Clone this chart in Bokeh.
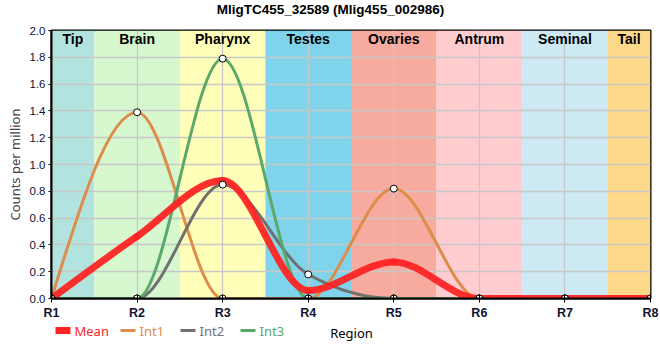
from bokeh.plotting import figure
from bokeh.embed import file_html
from bokeh.resources import INLINE
from bokeh.layouts import column
from bokeh.models import FixedTicker, Range1d, ColumnDataSource
from bokeh.core.properties import value

# ---- data ----
title_text = "MligTC455_32589 (Mlig455_002986)"
regions = ["R1", "R2", "R3", "R4", "R5", "R6", "R7", "R8"]
mean = [0.0, 0.463, 0.88, 0.06, 0.273, 0.0, 0.0, 0.0]
int1 = [0.0, 1.39, 0.0, 0.0, 0.82, 0.0, 0.0, 0.0]
int2 = [0.0, 0.0, 0.85, 0.18, 0.0, 0.0, 0.0, 0.0]
int3 = [0.0, 0.0, 1.79, 0.0, 0.0, 0.0, 0.0, 0.0]
tissues = ["Tip", "Brain", "Pharynx", "Testes", "Ovaries", "Antrum", "Seminal", "Tail"]
tissue_left = [0.0, 0.5, 1.5, 2.5, 3.5, 4.5, 5.5, 6.5]
tissue_right = [0.5, 1.5, 2.5, 3.5, 4.5, 5.5, 6.5, 7.0]
tissue_colors = ["#b3e3de", "#d7f7cf", "#ffffb9", "#7fd4eb", "#f7ab9e", "#ffcdd0", "#cde9f4", "#fed98a"]
y_ticks = [0.0, 0.2, 0.4, 0.6, 0.8, 1.0, 1.2, 1.4, 1.6, 1.8, 2.0]
series_names = ["Mean", "Int1", "Int2", "Int3"]
series_colors = ["#ff2424", "#dd8c4a", "#707070", "#5aa86a"]

xs = list(range(len(regions)))


def monotone_beziers(x, y):
    """Control points of a monotone cubic (d3 curveMonotoneX) through the data."""
    n = len(x)
    def sgn(v):
        return -1.0 if v < 0 else 1.0
    t = [0.0] * n
    for i in range(1, n - 1):
        h0 = x[i] - x[i - 1]
        h1 = x[i + 1] - x[i]
        s0 = (y[i] - y[i - 1]) / h0
        s1 = (y[i + 1] - y[i]) / h1
        pp = (s0 * h1 + s1 * h0) / (h0 + h1)
        t[i] = (sgn(s0) + sgn(s1)) * min(abs(s0), abs(s1), 0.5 * abs(pp))
    h = x[1] - x[0]
    t[0] = (3 * (y[1] - y[0]) / h - t[1]) / 2
    h = x[-1] - x[-2]
    t[-1] = (3 * (y[-1] - y[-2]) / h - t[-2]) / 2
    d = dict(x0=[], y0=[], x1=[], y1=[], cx0=[], cy0=[], cx1=[], cy1=[])
    for i in range(n - 1):
        dx = (x[i + 1] - x[i]) / 3
        d["x0"].append(x[i]); d["y0"].append(y[i])
        d["x1"].append(x[i + 1]); d["y1"].append(y[i + 1])
        d["cx0"].append(x[i] + dx); d["cy0"].append(y[i] + dx * t[i])
        d["cx1"].append(x[i + 1] - dx); d["cy1"].append(y[i + 1] - dx * t[i + 1])
    return ColumnDataSource(d)


def strip(height):
    f = figure(width=660, height=height, output_backend="svg", toolbar_location=None,
               x_range=Range1d(51, 650), y_range=Range1d(0, height),
               x_axis_location=None, y_axis_location=None,
               min_border_left=0, min_border_right=0, min_border_top=0, min_border_bottom=0)
    f.grid.visible = False
    f.outline_line_color = None
    return f


# title strip (frame aligned with the main frame by the column layout)
tt = strip(24)
tt.text([330], [15], text=[title_text], text_align="center", text_baseline="middle",
        text_font=value("Liberation Sans"), text_font_size="13.5px", text_font_style="bold",
        text_color="black")

p = figure(width=660, height=298, output_backend="svg", toolbar_location=None,
           x_range=Range1d(0, 7), y_range=Range1d(0, 2.0),
           min_border_left=51, min_border_right=10, min_border_top=6, min_border_bottom=23)

p.outline_line_color = "black"
p.outline_line_width = 2
p.background_fill_color = "white"

# region bands
p.quad(left=tissue_left, right=tissue_right, bottom=0, top=2.0, fill_color=tissue_colors,
       line_color=None, level="image")
band_cx = [(a + b) / 2 for a, b in zip(tissue_left, tissue_right)]
p.text(x=band_cx, y=[1.935] * len(tissues), text=tissues, text_align="center",
       text_baseline="middle", text_font=value("Liberation Sans"), text_font_size="14px",
       text_font_style="bold", text_color="black")

p.xgrid.grid_line_color = "#c8c8c8"
p.ygrid.grid_line_color = "#c8c8c8"
p.xgrid.grid_line_width = 1.3
p.ygrid.grid_line_width = 1.3

ints = [int1, int2, int3]
for vals, col in zip(ints, series_colors[1:]):
    src = monotone_beziers(xs, vals)
    p.bezier(x0="x0", y0="y0", x1="x1", y1="y1", cx0="cx0", cy0="cy0", cx1="cx1", cy1="cy1",
             source=src, line_color=col, line_width=3, line_cap="round")

msrc = monotone_beziers(xs, mean)
p.bezier(x0="x0", y0="y0", x1="x1", y1="y1", cx0="cx0", cy0="cy0", cx1="cx1", cy1="cy1",
         source=msrc, line_color=series_colors[0], line_width=7, line_alpha=0.95, line_cap="round")

for vals in ints:
    p.scatter(xs, vals, size=7, marker="circle", fill_color="white", line_color="black", line_width=1)

# axes
p.xaxis.ticker = FixedTicker(ticks=xs)
p.xaxis.major_label_overrides = {i: r for i, r in enumerate(regions)}
p.xaxis.major_label_text_font = "Liberation Sans"
p.xaxis.major_label_text_font_style = "bold"
p.xaxis.major_label_text_font_size = "12.5px"
p.xaxis.major_label_text_color = "#111133"
p.xaxis.major_label_standoff = 3
p.xaxis.major_tick_in = 4
p.xaxis.major_tick_out = 4
p.xaxis.major_tick_line_color = "black"
p.xaxis.minor_tick_line_color = None
p.xaxis.axis_line_width = 2
p.xaxis.axis_line_color = "black"

p.yaxis.ticker = FixedTicker(ticks=y_ticks)
p.yaxis.major_label_overrides = {v: f"{v:.1f}" for v in y_ticks}
p.yaxis.major_label_text_font = "Liberation Sans"
p.yaxis.major_label_text_font_size = "11.5px"
p.yaxis.major_label_text_color = "#111133"
p.yaxis.major_label_standoff = 3
p.yaxis.major_tick_in = 0
p.yaxis.major_tick_out = 3
p.yaxis.minor_tick_line_color = None
p.yaxis.axis_line_width = 2
p.yaxis.axis_line_color = "black"
p.yaxis.axis_label = "Counts per million"
p.yaxis.axis_label_text_font = "Noto Sans"
p.yaxis.axis_label_text_font_style = "normal"
p.yaxis.axis_label_text_font_size = "13px"
p.yaxis.axis_label_standoff = 3

# legend strip with the x-axis title (Region)
lg = strip(34)
sw_left = [55, 120, 180, 240]
sw_widths = [7, 3, 3, 3]
for name, col, x0, w in zip(series_names, series_colors, sw_left, sw_widths):
    lg.line([x0, x0 + 15], [26, 26], line_color=col, line_width=w)
    lg.text([x0 + 19], [26], text=[name], text_color=col, text_align="left", text_baseline="middle",
            text_font=value("Noto Sans"), text_font_size="13px")
lg.text([351], [24], text=["Region"], text_color="black", text_align="center", text_baseline="middle",
        text_font=value("Noto Sans"), text_font_size="13px")

layout = column(tt, p, lg, spacing=0)
open("out.html", "w").write(file_html(layout, INLINE))
